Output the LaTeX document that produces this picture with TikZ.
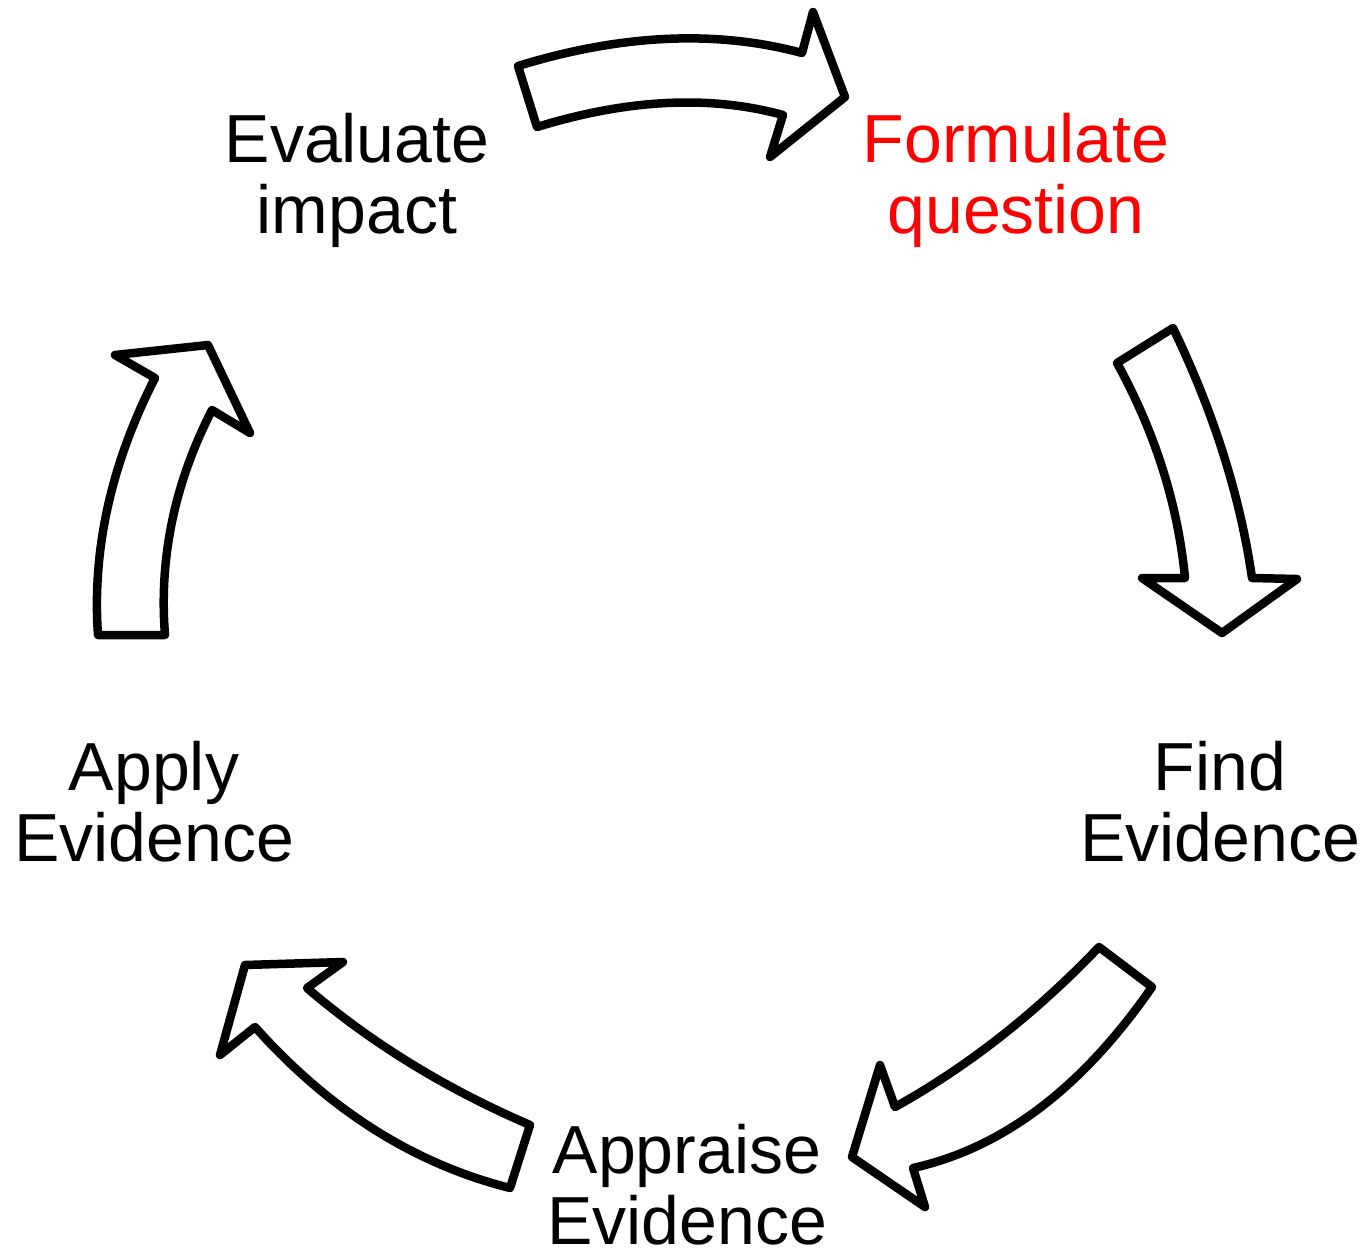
\documentclass[tikz,border=0pt]{standalone}
\usepackage{fontspec}
\setmainfont{Liberation Sans}
\begin{document}
\begin{tikzpicture}[x=1pt,y=-1pt,
  blockarrow/.style={draw=black,fill=white,line width=8.5pt,line join=round},
  steplabel/.style={align=center,inner sep=0pt,anchor=base,
    font=\fontsize{68}{71}\selectfont}]
\useasboundingbox (0,0) rectangle (1368,1253);

% curved block arrows around the cycle
\draw[blockarrow] (518,66) .. controls (622,34) and (717,30) .. (802,53)
  -- (813,12) -- (845,97) -- (770,157) -- (783,115)
  .. controls (710,95) and (628,99) .. (537,127) -- cycle;
\draw[blockarrow] (1117,363) .. controls (1156,434) and (1178,506) .. (1185,578)
  -- (1142,578) -- (1222,633) -- (1297,579) -- (1252,578)
  .. controls (1240,495) and (1213,411) .. (1173,328) -- cycle;
\draw[blockarrow] (1099,947) .. controls (1035,1014) and (967,1067) .. (895,1107)
  -- (880,1065) -- (852,1157) -- (925,1207) -- (913,1168)
  .. controls (1003,1148) and (1082,1088) .. (1152,987) -- cycle;
\draw[blockarrow] (530,1125) .. controls (444,1088) and (370,1042) .. (307,988)
  -- (343,962) -- (245,965) -- (220,1055) -- (255,1027)
  .. controls (330,1111) and (415,1164) .. (510,1188) -- cycle;
\draw[blockarrow] (98,635) .. controls (92,550) and (111,464) .. (155,378)
  -- (115,355) -- (208,345) -- (250,433) -- (212,410)
  .. controls (174,484) and (159,559) .. (165,635) -- cycle;

% step labels (anchored at the baseline of the second line)
\node[steplabel] (evaluate) at (357,233) {Evaluate\\impact};
\node[steplabel,text=red] (formulate) at (1016,233) {Formulate\\question};
\node[steplabel] (find) at (1220,861) {Find\\Evidence};
\node[steplabel] (apply) at (154,861) {Apply\\Evidence};
\node[steplabel] (appraise) at (687,1244) {Appraise\\Evidence};
\end{tikzpicture}
\end{document}
